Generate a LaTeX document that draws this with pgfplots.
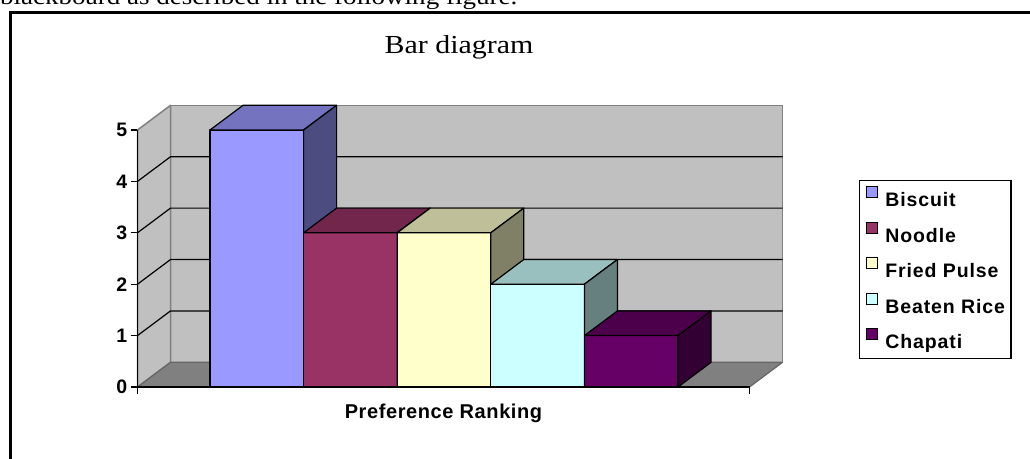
\documentclass[border=0pt]{standalone}
\usepackage{fontspec}
\setmainfont{Liberation Serif}
\newfontfamily\arialb[LetterSpace=3]{Liberation Sans}
\newfontfamily\arialc[LetterSpace=4.5]{Liberation Sans}
\newfontfamily\titlef[FakeStretch=1.15]{Liberation Serif}
\usepackage{pgfplots}
\pgfplotsset{compat=1.18}
\definecolor{wallc}{HTML}{C0C0C0}
\definecolor{edgec}{HTML}{808080}
\definecolor{floorc}{HTML}{808080}
\definecolor{floore}{HTML}{666666}
\definecolor{bisF}{HTML}{9999FF}
\definecolor{bisT}{HTML}{7373BF}
\definecolor{bisS}{HTML}{4C4C80}
\definecolor{nooF}{HTML}{993366}
\definecolor{nooT}{HTML}{73264C}
\definecolor{nooS}{HTML}{4C1933}
\definecolor{friF}{HTML}{FFFFCC}
\definecolor{friT}{HTML}{BFBF99}
\definecolor{friS}{HTML}{808066}
\definecolor{beaF}{HTML}{CCFFFF}
\definecolor{beaT}{HTML}{99BFBF}
\definecolor{beaS}{HTML}{668080}
\definecolor{chaF}{HTML}{660066}
\definecolor{chaT}{HTML}{4C004C}
\definecolor{chaS}{HTML}{330033}
\begin{document}
\begin{tikzpicture}
\useasboundingbox (0pt,0pt) rectangle (1030pt,458pt);
\node[anchor=base west, inner sep=0pt, font=\titlef\fontsize{23.5}{23.5}\selectfont] at (0pt,453pt) {blackboard as described in the following figure.};
\draw[line width=2.5pt] (10.5pt,-5pt) -- (10.5pt,445.7pt) -- (1040pt,445.7pt);
\node[anchor=base, inner sep=0pt, font=\titlef\fontsize{26}{26}\selectfont] at (459pt,404pt) {Bar diagram};
\begin{axis}[
  at={(137.5pt,71pt)}, anchor=south west,
  x=1pt, y=51.4pt,
  xmin=0, xmax=645, ymin=0, ymax=5.48,
  clip=false,
  axis x line*=bottom, axis y line*=left,
  axis line style={draw=none,-},
  xtick={0,612}, xticklabels={},
  ytick={0,1,2,3,4,5},
  tick align=outside,
  major tick length=7pt,
  tick style={black, line width=1.2pt},
  /pgf/number format/assume math mode=true,
  yticklabel style={font=\arialb\bfseries\fontsize{19.5}{19.5}\selectfont, inner sep=0pt, anchor=east, xshift=-3pt},
  geo/.style={forget plot, line width=1.2pt, line join=round},
  legend style={at={(1.1186,0.7348)}, anchor=north west, draw=black, line width=1.3pt,
    inner xsep=6pt, inner ysep=5pt, row sep=9.9pt, column sep=8pt,
    font=\arialc\bfseries\fontsize{19.5}{19.5}\selectfont,
    nodes={inner sep=0pt, text height=21pt, text depth=4.6pt}},
  legend cell align=left,
  legend image code/.code={\draw[#1, line width=0.8pt] (0pt,1pt) rectangle (11pt,12pt);},
]
% walls and floor
\addplot[geo, fill=wallc, draw=edgec, line width=1.5pt] coordinates {(33,0.48) (645,0.48) (645,5.48) (33,5.48) (33,0.48)};
\addplot[geo, fill=wallc, draw=edgec, line width=1.5pt] coordinates {(0,0) (33,0.48) (33,5.48) (0,5) (0,0)};
\addplot[geo, fill=floorc, draw=floore, line width=1.2pt] coordinates {(0,0) (612,0) (645,0.48) (33,0.48) (0,0)};
% gridlines
\addplot[geo, black] coordinates {(0,1) (33,1.48) (645,1.48)};
\addplot[geo, black] coordinates {(0,2) (33,2.48) (645,2.48)};
\addplot[geo, black] coordinates {(0,3) (33,3.48) (645,3.48)};
\addplot[geo, black] coordinates {(0,4) (33,4.48) (645,4.48)};
% Biscuit = 5
\addplot[geo, ybar, bar width=93.6, bar shift=0, fill=bisF, draw=black] coordinates {(119.3,5)};
\addplot[geo, fill=bisT, draw=black] coordinates {(72.5,5) (166.1,5) (199.1,5.48) (105.5,5.48) (72.5,5)};
\addplot[geo, fill=bisS, draw=black] coordinates {(166.1,0) (199.1,0.48) (199.1,5.48) (166.1,5) (166.1,0)};
% Noodle = 3
\addplot[geo, ybar, bar width=93.6, bar shift=0, fill=nooF, draw=black] coordinates {(212.9,3)};
\addplot[geo, fill=nooT, draw=black] coordinates {(166.1,3) (259.7,3) (292.7,3.48) (199.1,3.48) (166.1,3)};
\addplot[geo, fill=nooS, draw=black] coordinates {(259.7,0) (292.7,0.48) (292.7,3.48) (259.7,3) (259.7,0)};
% Fried Pulse = 3
\addplot[geo, ybar, bar width=93.6, bar shift=0, fill=friF, draw=black] coordinates {(306.5,3)};
\addplot[geo, fill=friT, draw=black] coordinates {(259.7,3) (353.3,3) (386.3,3.48) (292.7,3.48) (259.7,3)};
\addplot[geo, fill=friS, draw=black] coordinates {(353.3,0) (386.3,0.48) (386.3,3.48) (353.3,3) (353.3,0)};
% Beaten Rice = 2
\addplot[geo, ybar, bar width=93.6, bar shift=0, fill=beaF, draw=black] coordinates {(400.1,2)};
\addplot[geo, fill=beaT, draw=black] coordinates {(353.3,2) (446.9,2) (479.9,2.48) (386.3,2.48) (353.3,2)};
\addplot[geo, fill=beaS, draw=black] coordinates {(446.9,0) (479.9,0.48) (479.9,2.48) (446.9,2) (446.9,0)};
% Chapati = 1
\addplot[geo, ybar, bar width=93.6, bar shift=0, fill=chaF, draw=black] coordinates {(493.7,1)};
\addplot[geo, fill=chaT, draw=black] coordinates {(446.9,1) (540.5,1) (573.5,1.48) (479.9,1.48) (446.9,1)};
\addplot[geo, fill=chaS, draw=black] coordinates {(540.5,0) (573.5,0.48) (573.5,1.48) (540.5,1) (540.5,0)};
% front axis lines
\addplot[geo, black, line width=1.3pt] coordinates {(0,5) (0,0) (612,0)};
% x label
\node[anchor=base, inner sep=0pt, font=\arialb\bfseries\fontsize{20}{20}\selectfont] at (axis cs:306,0) [yshift=-31pt] {Preference Ranking};
% legend
\addlegendimage{fill=bisF, draw=black}
\addlegendentry{Biscuit}
\addlegendimage{fill=nooF, draw=black}
\addlegendentry{Noodle}
\addlegendimage{fill=friF, draw=black}
\addlegendentry{Fried Pulse}
\addlegendimage{fill=beaF, draw=black}
\addlegendentry{Beaten Rice}
\addlegendimage{fill=chaF, draw=black}
\addlegendentry{Chapati}
\end{axis}
\end{tikzpicture}
\end{document}
